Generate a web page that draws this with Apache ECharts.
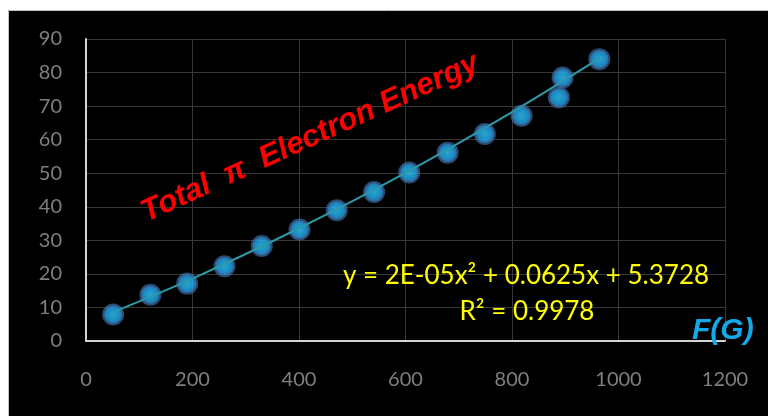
<!DOCTYPE html>
<html>
<head>
<meta charset="utf-8">
<script src="https://cdn.jsdelivr.net/npm/echarts@6/dist/echarts.min.js"></script>
<style>
html,body{margin:0;padding:0;background:#fff;}
#chart{width:768px;height:416px;}
</style>
</head>
<body>
<div id="chart"></div>
<script>
// Data
const xValues = [51, 121, 190, 260, 330, 401, 471, 541, 607, 679, 749, 818, 888, 895, 964];
const yValues = [7.9, 13.8, 17.1, 22.3, 28.3, 33.2, 39.0, 44.4, 50.2, 56.1, 61.7, 67.1, 72.6, 78.5, 84.0];
// Trend line (polynomial fit drawn in the reference)
const trendX = [51, 200, 400, 600, 800, 964];
const trendY = [8.6, 18.6, 33.6, 50.1, 68.2, 84.2];
const xTicks = { min: 0, max: 1200, interval: 200 };
const yTicks = { min: 0, max: 90, interval: 10 };
const titleText = 'Total  \u03c0  Electron Energy';
const eqLine1 = 'y = 2E-05x\u00b2 + 0.0625x + 5.3728';
const eqLine2 = 'R\u00b2 = 0.9978';
const xName = 'F(G)';

const chart = echarts.init(document.getElementById('chart'), null, { renderer: 'canvas' });

const points = xValues.map((x, i) => [x, yValues[i]]);
const trend = trendX.map((x, i) => [x, trendY[i]]);

const labelStyle = { color: '#7f7f7f', fontSize: 20, fontFamily: 'Lato', formatter: v => String(v) };

chart.setOption({
  backgroundColor: '#000000',
  animation: false,
  grid: { left: 86, right: 43, top: 39, bottom: 75 },
  xAxis: {
    type: 'value', min: xTicks.min, max: xTicks.max, interval: xTicks.interval,
    axisLine: { show: true, lineStyle: { color: '#d4d4d4', width: 2 } },
    axisTick: { show: false },
    splitLine: { show: true, lineStyle: { color: '#383838', width: 1 } },
    axisLabel: Object.assign({ margin: 29 }, labelStyle)
  },
  yAxis: {
    type: 'value', min: yTicks.min, max: yTicks.max, interval: yTicks.interval,
    axisLine: { show: true, lineStyle: { color: '#d4d4d4', width: 2 } },
    axisTick: { show: false },
    splitLine: { show: true, lineStyle: { color: '#383838', width: 1 } },
    axisLabel: Object.assign({ margin: 24 }, labelStyle)
  },
  series: [
    {
      type: 'scatter',
      data: points,
      symbol: 'circle',
      symbolSize: 18,
      z: 2,
      itemStyle: {
        color: {
          type: 'radial', x: 0.5, y: 0.5, r: 0.5,
          colorStops: [
            { offset: 0, color: '#3ccaff' },
            { offset: 0.7, color: '#14aef5' },
            { offset: 1, color: '#1590d4' }
          ]
        },
        borderColor: 'rgba(62,112,168,0.85)',
        borderWidth: 4
      }
    },
    {
      type: 'line',
      data: trend,
      smooth: 0.3,
      showSymbol: false,
      z: 3,
      lineStyle: { color: '#2e98a8', width: 2 }
    }
  ],
  graphic: [
    { type: 'rect', shape: { x: 0, y: 0, width: 768, height: 10 }, style: { fill: '#ffffff' }, z: 100 },
    { type: 'rect', shape: { x: 0, y: 0, width: 8, height: 416 }, style: { fill: '#ffffff' }, z: 100 },
    { type: 'polyline', shape: { points: [[8.5, 416], [8.5, 10.5], [768, 10.5]] }, style: { stroke: '#c4c4c4', lineWidth: 1, fill: null }, z: 101 },
    {
      type: 'text', x: 310, y: 138, rotation: 24.5 * Math.PI / 180, z: 100,
      style: { text: titleText, fill: '#ff0000', font: 'italic bold 31px "Liberation Sans", Arial, sans-serif', align: 'center', verticalAlign: 'middle' }
    },
    {
      type: 'text', x: 526, y: 276, z: 100,
      style: { text: eqLine1, fill: '#ffff00', font: '26px Lato, sans-serif', align: 'center', verticalAlign: 'middle' }
    },
    {
      type: 'text', x: 527, y: 312, z: 100,
      style: { text: eqLine2, fill: '#ffff00', font: '26px Lato, sans-serif', align: 'center', verticalAlign: 'middle' }
    },
    {
      type: 'text', x: 692, y: 331, z: 100,
      style: { text: xName, fill: '#12a8ea', font: 'italic bold 30px "Liberation Sans", Arial, sans-serif', align: 'left', verticalAlign: 'middle' }
    }
  ]
});
</script>
</body>
</html>
